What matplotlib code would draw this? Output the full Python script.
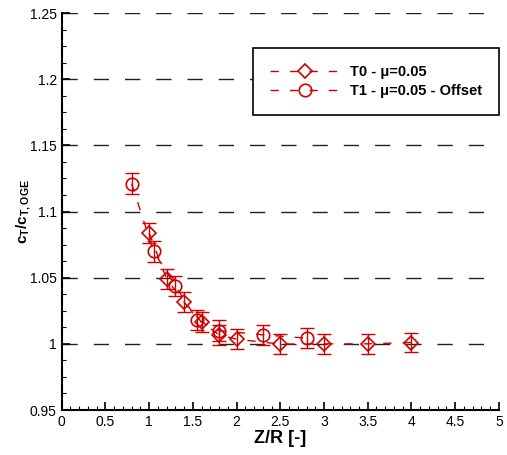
import matplotlib
matplotlib.use("Agg")
import matplotlib.pyplot as plt
from matplotlib.ticker import MultipleLocator, FuncFormatter

plt.rcParams['font.family'] = ['Liberation Sans', 'DejaVu Sans']
plt.rcParams['mathtext.fontset'] = 'custom'
plt.rcParams['mathtext.bf'] = 'Liberation Sans:bold'
plt.rcParams['mathtext.rm'] = 'Liberation Sans'
plt.rcParams['lines.scale_dashes'] = False

# Data
t0_x = [1.0, 1.2, 1.4, 1.6, 1.8, 2.0, 2.5, 3.0, 3.5, 4.0]
t0_y = [1.084, 1.049, 1.0315, 1.0164, 1.0068, 1.0035, 0.9998, 1.000, 1.000, 1.001]
t0_err = [0.0075] * len(t0_x)

t1_x = [0.8, 1.05, 1.3, 1.55, 1.8, 2.3, 2.8]
t1_y = [1.121, 1.070, 1.0438, 1.018, 1.010, 1.0068, 1.0043]
t1_err = [0.0078] * len(t1_x)

labels = ['T0 - μ=0.05', 'T1 - μ=0.05 - Offset']
red = '#d10000'

fig = plt.figure(figsize=(5.07, 4.55), dpi=100)
ax = fig.add_axes([0.1217, 0.0989, 0.984 - 0.1217, 0.9714 - 0.0989])

ax.set_xlim(0, 5)
ax.set_ylim(0.95, 1.25)

# grid
for yv in [1.0, 1.05, 1.1, 1.15, 1.2, 1.25]:
    ax.axhline(yv, color='#222222', lw=1.0, dashes=(11, 11.5), zorder=1)

dash = (6, 8)
l0, = ax.plot(t0_x, t0_y, color=red, lw=1.0, dashes=dash, marker='D', ms=7.2,
              mfc='none', mec=red, mew=1.2, zorder=3)
l1, = ax.plot(t1_x, t1_y, color=red, lw=1.0, dashes=dash, marker='o', ms=9,
              mfc='none', mec=red, mew=1.2, zorder=3)
ax.errorbar(t0_x, t0_y, yerr=t0_err, fmt='none', ecolor=red, elinewidth=1.0,
            capsize=5.3, capthick=1.0, zorder=2)
ax.errorbar(t1_x, t1_y, yerr=t1_err, fmt='none', ecolor=red, elinewidth=1.0,
            capsize=5.3, capthick=1.0, zorder=2)

leg = ax.legend([l0, l1], labels, loc='upper left', bbox_to_anchor=(0.437, 0.912),
                prop={'weight': 'bold', 'size': 10.5}, frameon=True, fancybox=False,
                edgecolor='black', framealpha=1, handlelength=4.9, handletextpad=0.65,
                labelspacing=0.35, borderpad=1.15, borderaxespad=0)
leg.get_frame().set_linewidth(1.2)

ax.xaxis.set_major_locator(MultipleLocator(0.5))
ax.xaxis.set_minor_locator(MultipleLocator(0.1))
ax.yaxis.set_major_locator(MultipleLocator(0.05))
ax.yaxis.set_minor_locator(MultipleLocator(0.0125))
fmt = FuncFormatter(lambda v, p: '%g' % round(v, 4))
ax.xaxis.set_major_formatter(fmt)
ax.yaxis.set_major_formatter(fmt)
ax.tick_params(which='both', direction='in', top=False, right=False, labelsize=10)
ax.tick_params(which='major', length=6, width=1.2)
ax.tick_params(which='minor', length=3, width=0.8)
for s in ['top', 'right']:
    ax.spines[s].set_visible(False)
for s in ['left', 'bottom']:
    ax.spines[s].set_linewidth(1.5)

ax.set_xlabel('Z/R [-]', fontsize=13, fontweight='bold', labelpad=1)
ax.set_ylabel(r'$\mathbf{c_T/c_{T,OGE}}$', fontsize=11)
ax.yaxis.set_label_coords(-0.066, 0.5)

fig.savefig('out.png', dpi=100)
